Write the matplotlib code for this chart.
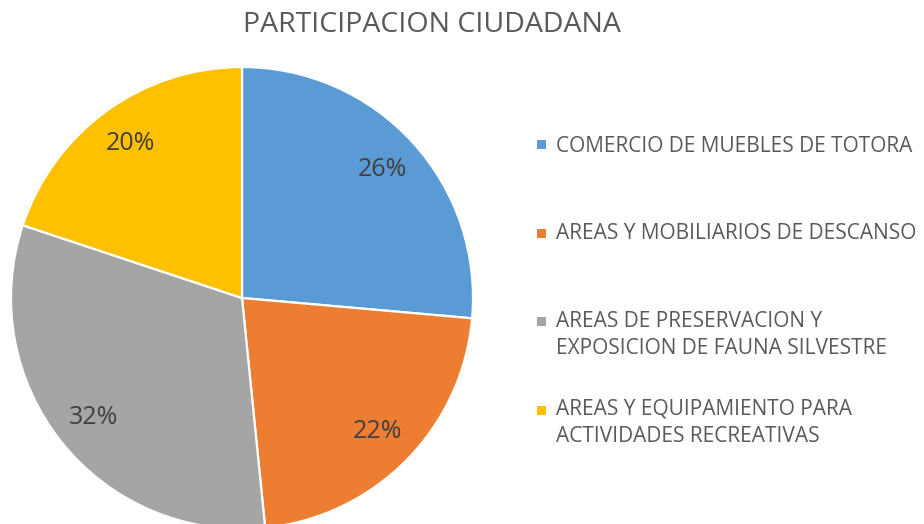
import matplotlib.pyplot as plt
from matplotlib.patches import Rectangle

labels = ['COMERCIO DE MUEBLES DE TOTORA',
          'AREAS Y MOBILIARIOS DE DESCANSO',
          'AREAS DE PRESERVACION Y\nEXPOSICION DE FAUNA SILVESTRE',
          'AREAS Y EQUIPAMIENTO PARA\nACTIVIDADES RECREATIVAS']
values = [26.4, 22.0, 31.7, 19.9]
colors = ['#5B9BD5', '#ED7D31', '#A5A5A5', '#FFC000']

plt.rcParams['font.family'] = ['Open Sans', 'DejaVu Sans']

W, H = 924, 524
fig = plt.figure(figsize=(W / 100, H / 100), dpi=100)

# pie centrado en (242, 298) px con radio 231
cx, cy, r = 242, 298, 231
ax = fig.add_axes([(cx - r) / W, (H - cy - r) / H, 2 * r / W, 2 * r / H])
wedges, texts, autotexts = ax.pie(values, colors=colors, startangle=90, counterclock=False,
                                  autopct='%1.0f%%', pctdistance=0.825,
                                  wedgeprops=dict(edgecolor='white', linewidth=1.6),
                                  textprops=dict(color='#404040', fontsize=18))
ax.set_xlim(-1, 1)
ax.set_ylim(-1, 1)

fig.text(432 / W, 1 - 32 / H, 'PARTICIPACION CIUDADANA', ha='center', va='baseline',
         fontsize=20.5, color='#595959')

# leyenda manual (una linea de texto por vez)
ys = [145, 233, 321, 410]
baselines = [152, 239, 327, 415]
for lab, col, y, b in zip(labels, colors, ys, baselines):
    fig.patches.append(Rectangle((537 / W, 1 - (y + 4.5) / H), 9 / W, 9 / H,
                                 transform=fig.transFigure, facecolor=col, edgecolor='none'))
    for i, line in enumerate(lab.split('\n')):
        fig.text(556 / W, 1 - (b + 27 * i) / H, line, ha='left', va='baseline',
                 fontsize=15, color='#595959')

fig.savefig('out.png', dpi=100)
